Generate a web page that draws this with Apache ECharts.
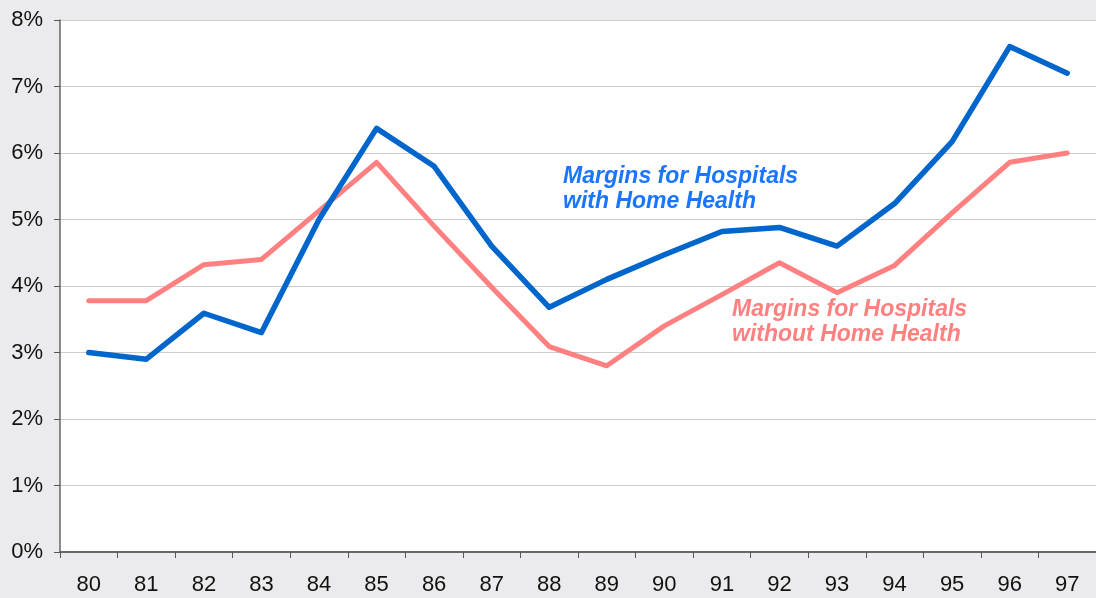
<!DOCTYPE html>
<html>
<head>
<meta charset="utf-8">
<script src="https://cdn.jsdelivr.net/npm/echarts@6/dist/echarts.min.js"></script>
<style>
  html, body { margin: 0; padding: 0; background: #ebebed; }
  #chart { width: 1096px; height: 598px; }
</style>
</head>
<body>
<div id="chart"></div>
<script>
var years = ['80','81','82','83','84','85','86','87','88','89','90','91','92','93','94','95','96','97'];
var withHome = [3.0, 2.9, 3.59, 3.3, 5.0, 6.37, 5.8, 4.6, 3.68, 4.1, 4.47, 4.82, 4.88, 4.6, 5.24, 6.17, 7.6, 7.2];
var withoutHome = [3.78, 3.78, 4.32, 4.4, 5.13, 5.86, 4.9, 3.98, 3.09, 2.8, 3.4, 3.87, 4.35, 3.9, 4.31, 5.1, 5.86, 6.0];

var chart = echarts.init(document.getElementById('chart'));
var fontFam = 'Liberation Sans, Arial, sans-serif';

chart.setOption({
    backgroundColor: '#ebebed',
    animation: false,
    grid: {
        left: 60,
        top: 20,
        width: 1046,
        bottom: 46,
        show: true,
        backgroundColor: '#ffffff',
        borderWidth: 0
    },
    xAxis: {
        type: 'category',
        data: years,
        boundaryGap: true,
        axisLine: { lineStyle: { color: '#666666', width: 2 } },
        axisTick: { show: true, length: 6, lineStyle: { color: '#555555' } },
        axisLabel: { color: '#111111', fontSize: 22, fontFamily: fontFam, margin: 22 },
        splitLine: { show: false }
    },
    yAxis: {
        type: 'value',
        min: 0,
        max: 8,
        interval: 1,
        axisLine: { show: true, lineStyle: { color: '#666666', width: 1.5 } },
        axisTick: { show: true, length: 6, lineStyle: { color: '#555555' } },
        axisLabel: {
            color: '#111111', fontSize: 22, fontFamily: fontFam, margin: 17,
            formatter: '{value}%'
        },
        splitLine: { lineStyle: { color: '#cccccc', width: 1.2 } }
    },
    series: [
        {
            name: 'Margins for Hospitals with Home Health',
            type: 'line',
            data: withHome,
            symbol: 'none',
            lineStyle: { color: '#0066cc', width: 5.5, cap: 'round', join: 'round' },
            z: 3
        },
        {
            name: 'Margins for Hospitals without Home Health',
            type: 'line',
            data: withoutHome,
            symbol: 'none',
            lineStyle: { color: '#ff8080', width: 5, cap: 'round', join: 'round' },
            z: 2
        }
    ],
    graphic: [
        {
            type: 'text',
            left: 563,
            top: 164,
            style: {
                text: 'Margins for Hospitals\nwith Home Health',
                fill: '#1a75ff',
                font: 'italic bold 23px Liberation Sans, Arial, sans-serif',
                lineHeight: 25
            }
        },
        {
            type: 'text',
            left: 732,
            top: 297,
            style: {
                text: 'Margins for Hospitals\nwithout Home Health',
                fill: '#ff8080',
                font: 'italic bold 23px Liberation Sans, Arial, sans-serif',
                lineHeight: 25
            }
        }
    ]
});
</script>
</body>
</html>
